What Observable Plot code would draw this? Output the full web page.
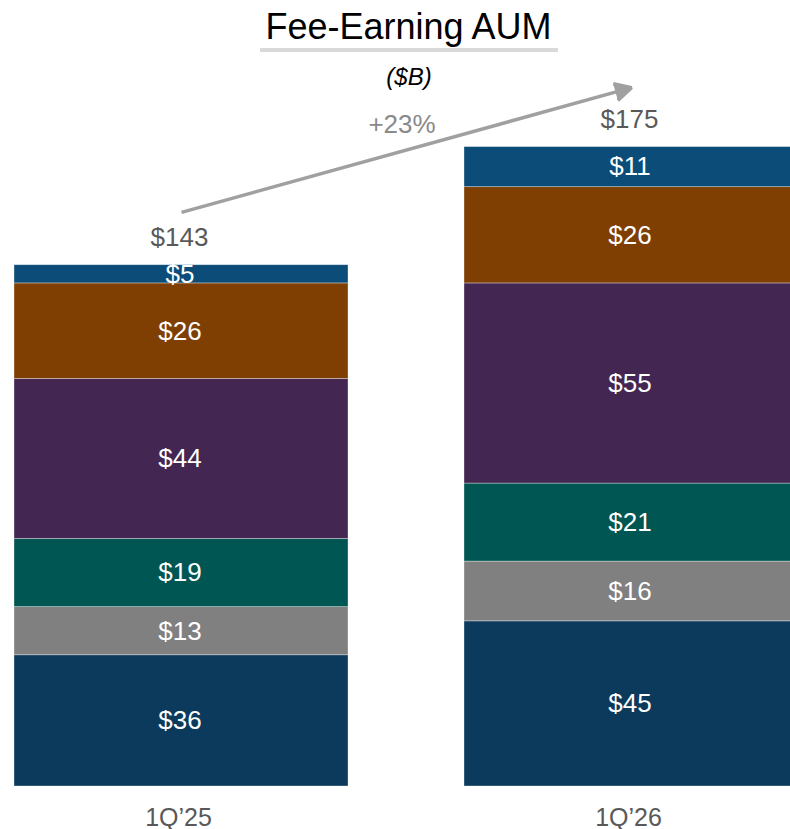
<!DOCTYPE html>
<html>
<head>
<meta charset="utf-8">
<script src="https://cdn.jsdelivr.net/npm/d3@7"></script>
<script src="https://cdn.jsdelivr.net/npm/@observablehq/plot@0.6"></script>
<style>
  html, body { margin: 0; padding: 0; background: #fff; overflow: hidden; }
  body { font-family: "Liberation Sans", Arial, sans-serif; }
  #wrap { position: relative; width: 790px; height: 829px; overflow: hidden; }
  #header { position: relative; height: 60px; }
  #title { position: absolute; left: 0; width: 817px; top: 8.5px; text-align: center;
           font-size: 36px; line-height: 36px; color: #000; white-space: nowrap; }
  #rule { position: absolute; left: 260px; top: 48px; width: 298px; height: 4px; background: #d9d9d9; }
  #subtitle { position: absolute; left: 0; width: 818px; top: 65px; text-align: center;
              font-size: 24px; line-height: 24px; font-style: italic; color: #000; z-index: 2; }
  #chart svg { display: block; }
</style>
</head>
<body>
<div id="wrap">
  <div id="header">
    <div id="title">Fee-Earning AUM</div>
    <div id="rule"></div>
  </div>
  <div id="chart"></div>
  <div id="subtitle">($B)</div>
</div>
<script>
// ---- Data ----
const periods = ["1Q\u201925", "1Q\u201926"];
const segments = ["Segment 1", "Segment 2", "Segment 3", "Segment 4", "Segment 5", "Segment 6"]; // bottom to top
const values1Q25 = [36.0, 13.2, 18.7, 43.9, 26.2, 5.0];
const values1Q26 = [45.3, 16.4, 21.4, 54.9, 26.4, 11.0];
const totalLabels = ["$143", "$175"];
const growthLabel = "+23%";
const segmentColors = ["#0b3a5c", "#808080", "#005652", "#432752", "#7f3f02", "#0c4c78"];

// ---- Build tables ----
const seriesByPeriod = [values1Q25, values1Q26];
const rows = [];
periods.forEach((p, i) => {
  segments.forEach((s, j) => rows.push({period: p, segment: s, value: seriesByPeriod[i][j]}));
});
const totals = periods.map((p, i) => ({
  period: p,
  total: d3.sum(seriesByPeriod[i]),
  label: totalLabels[i]
}));
const arrowData = [{
  from: periods[0], to: periods[1],
  y1: totals[0].total + 14.5, y2: totals[1].total + 16.3
}];

const W = 790, H = 769, MB = 43;
const pxPerUnit = 3.6455;
const yMax = 200;

const plot = Plot.plot({
  width: W,
  height: H,
  marginLeft: 0, marginRight: 0, marginTop: 0, marginBottom: MB,
  style: {fontFamily: "'Liberation Sans', Arial, sans-serif", background: "transparent", overflow: "hidden"},
  x: {domain: periods, range: [14.3, 798.7], paddingInner: 0.2569, paddingOuter: 0, axis: null},
  y: {domain: [0, yMax], range: [H - MB, H - MB - yMax * pxPerUnit], axis: null},
  color: {domain: segments, range: segmentColors},
  marks: [
    Plot.barY(rows, {
      x: "period", y: "value", fill: "segment",
      stroke: "#ffffff", strokeOpacity: 0.45, strokeWidth: 0.75, inset: 0
    }),
    Plot.text(rows, Plot.stackY({
      x: "period", y: "value", z: "segment",
      text: d => "$" + Math.round(d.value),
      fill: "#ffffff", fontSize: 26, dx: -1.5
    })),
    Plot.text(totals, {
      x: "period", y: "total", text: "label",
      fill: "#595959", fontSize: 26, dy: -27.5, dx: -2
    }),
    Plot.arrow(arrowData, {
      x1: "from", y1: "y1", x2: "to", y2: "y2",
      stroke: "#a0a0a0", fill: "#a0a0a0", strokeWidth: 3.5,
      headLength: 8, headAngle: 55, strokeLinecap: "butt", strokeLinejoin: "miter"
    }),
    Plot.text([growthLabel], {
      text: d => d, frameAnchor: "top", lineAnchor: "middle", dx: 6.5, dy: 63.7,
      fill: "#8a8a8a", fontSize: 26
    }),
    Plot.text(periods, {
      x: d => d, text: d => d, frameAnchor: "bottom", lineAnchor: "middle", dy: 31, dx: -3,
      fill: "#595959", fontSize: 25
    })
  ]
});
document.getElementById("chart").appendChild(plot);
</script>
</body>
</html>
